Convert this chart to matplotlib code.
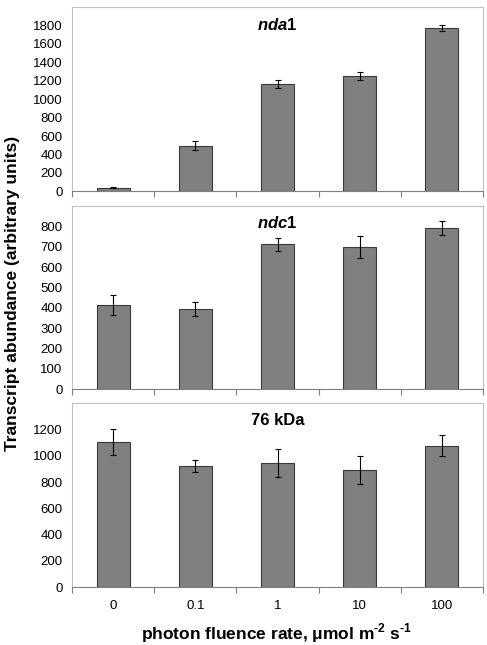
import matplotlib
matplotlib.use("Agg")
import matplotlib.pyplot as plt
import numpy as np

plt.rcParams['font.family'] = ['Liberation Sans', 'DejaVu Sans']
plt.rcParams['mathtext.fontset'] = 'custom'
plt.rcParams['mathtext.rm'] = 'Liberation Sans:bold'
plt.rcParams['mathtext.bf'] = 'Liberation Sans:bold'
plt.rcParams['mathtext.bfit'] = 'Liberation Sans:italic:bold'

categories = ["0", "0.1", "1", "10", "100"]

nda1_vals = [40, 495, 1168, 1252, 1770]
nda1_err = [6, 50, 45, 45, 35]

ndc1_vals = [415, 395, 712, 698, 792]
ndc1_err = [50, 33, 33, 55, 35]

kda76_vals = [1105, 925, 948, 895, 1075]
kda76_err = [100, 47, 107, 107, 80]

panels = [
    (r"$\mathbfit{nda}\mathbf{1}$", nda1_vals, nda1_err, 2000, 200),
    (r"$\mathbfit{ndc}\mathbf{1}$", ndc1_vals, ndc1_err, 900, 100),
    ("76 kDa", kda76_vals, kda76_err, 1400, 200),
]

# axes boxes in figure fraction: left, bottom, width, height
boxes = [
    [0.1485, 0.7034, 0.8427, 0.2857],
    [0.1485, 0.3964, 0.8427, 0.2842],
    [0.1485, 0.0895, 0.8427, 0.2853],
]

fig = plt.figure(figsize=(4.87, 6.45), dpi=100)
x = np.arange(len(categories))

for i, (title, vals, errs, ymax, step) in enumerate(panels):
    ax = fig.add_axes(boxes[i])
    ax.bar(x, vals, width=0.4, color="#808080", edgecolor="#3a3a3a", linewidth=0.8)
    ax.errorbar(x, vals, yerr=errs, fmt="none", ecolor="black",
                elinewidth=0.8, capsize=2.5, capthick=0.8)
    ax.set_xlim(-0.5, 4.5)
    ax.set_ylim(0, ymax)
    ax.set_yticks(np.arange(0, ymax, step))
    ax.tick_params(axis="y", length=0, labelsize=9.5, pad=7)
    ax.set_xticks(x)
    ax.set_xticks(np.arange(-0.5, 5, 1), minor=True)
    ax.tick_params(axis="x", which="major", length=0, labelsize=9.5, pad=9)
    ax.tick_params(axis="x", which="minor", length=4, width=0.8, color="#808080",
                   direction="out")
    if i < 2:
        ax.set_xticklabels([])
    else:
        ax.set_xticklabels(categories)
    for side in ["left", "top", "right"]:
        ax.spines[side].set_color("#c0c0c0")
        ax.spines[side].set_linewidth(0.8)
    ax.spines["bottom"].set_color("#808080")
    ax.spines["bottom"].set_linewidth(0.8)
    ax.text(0.5, 0.905, title, transform=ax.transAxes, ha="center", va="center",
            fontsize=12, fontweight="bold")

fig.text(0.026, 0.545, "Transcript abundance (arbitrary units)", rotation=90,
         ha="center", va="center", fontsize=12.5, fontweight="bold")
fig.text(0.567, 0.018, r"photon fluence rate, μmol m$^{\text{-2}}$ s$^{\text{-1}}$",
         ha="center", va="center", fontsize=12.5, fontweight="bold")

fig.savefig("out.png", dpi=100)
